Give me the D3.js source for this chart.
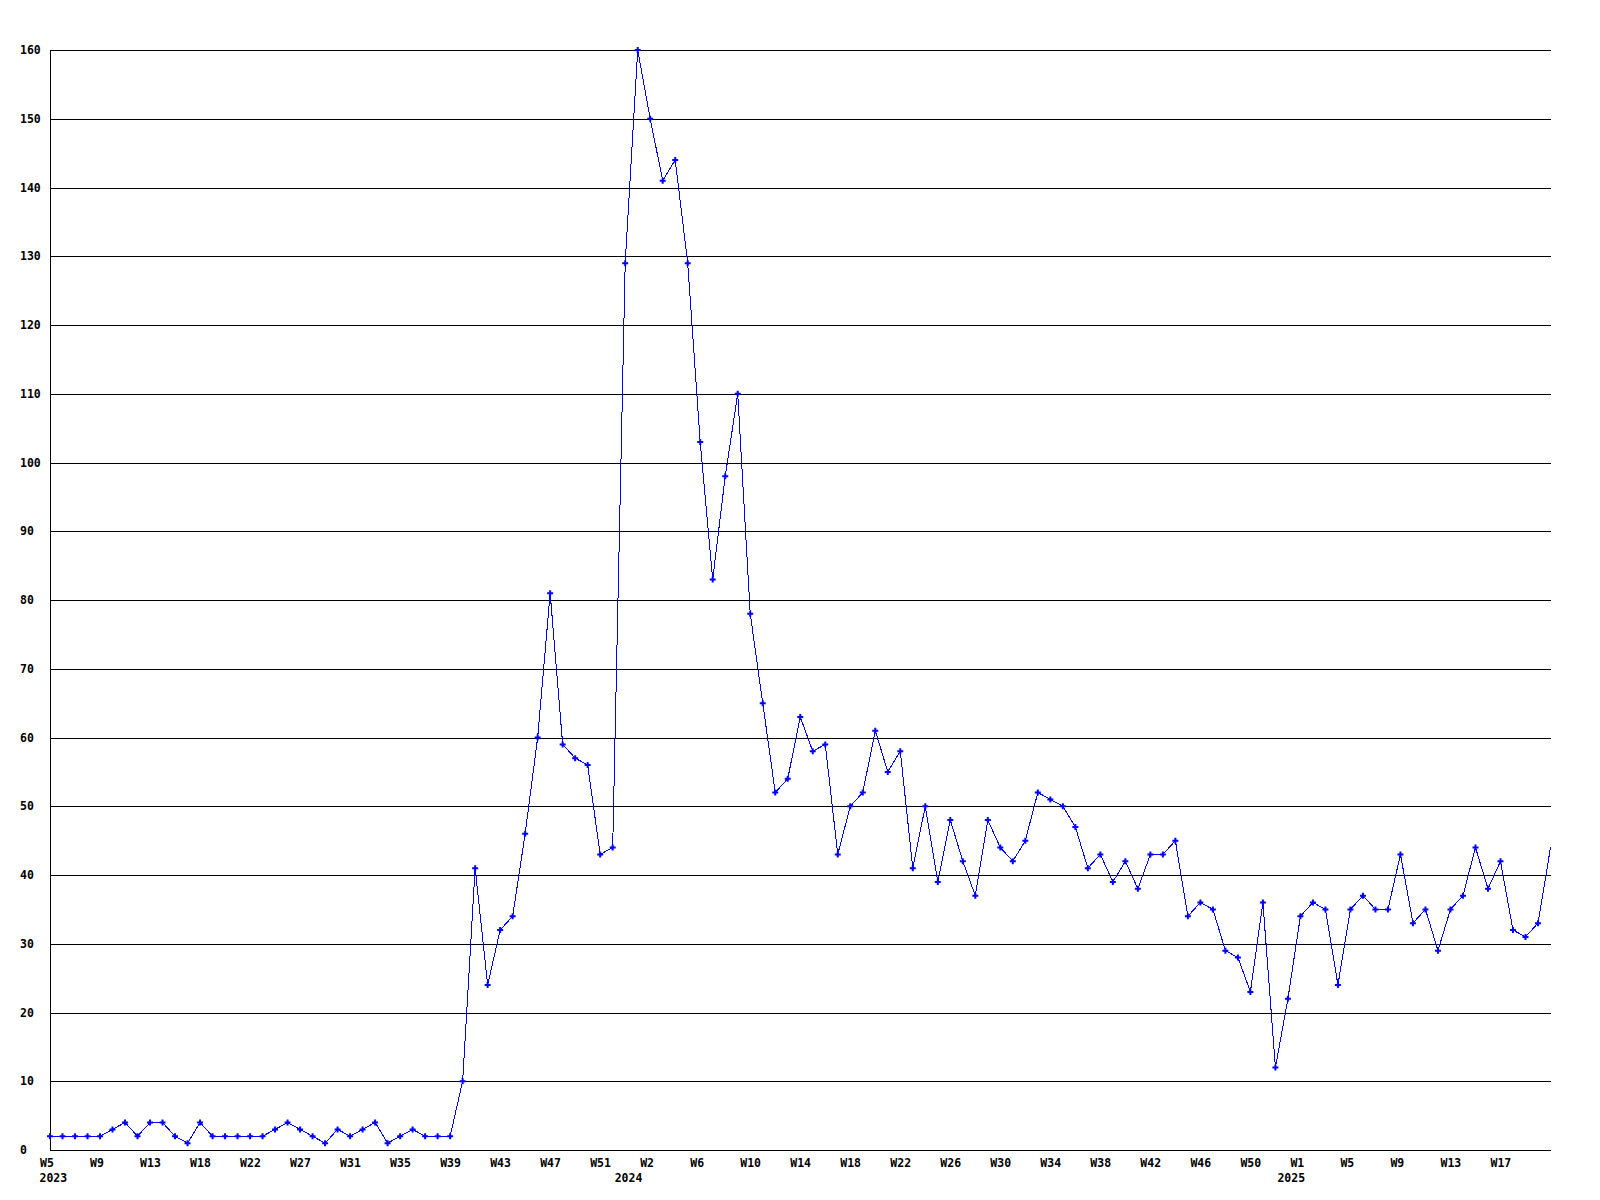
<!DOCTYPE html>
<html><head><meta charset="utf-8">
<script src="https://cdn.jsdelivr.net/npm/d3@7"></script>
<style>
body{margin:0;background:#fff}
text{font-family:"DejaVu Sans Mono","Liberation Mono",monospace;font-weight:bold;font-size:11.5px;fill:#000}
</style>
</head><body>
<svg id="c" width="1600" height="1200"></svg>
<script>
// Week numbers of every data point, per year
const weeks2023 = [5,6,7,8,9,10,11,12,13,14,15,17,18,19,20,21,22,23,24,26,27,28,29,30,31,32,33,34,35,36,37,38,39,40,41,42,43,44,45,46,47,48,49,50,51,52];
const weeks2024 = [0,1,2,3,4,5,6,7,8,9,10,11,12,13,14,15,16,17,18,19,20,21,22,23,24,25,26,27,28,29,30,31,32,33,34,35,36,37,38,39,40,41,42,43,44,45,46,47,48,49,50,51,52];
const weeks2025 = [0,1,2,3,4,5,6,7,8,9,10,11,12,13,14,15,16,17,18,19,20,21];

// Series values (one per week above)
const values = [
  2,2,2,2,2,3,4,2,4,4,2,1,4,2,2,2,2,2,3,4,3,2,1,3,2,3,4,1,2,3,2,2,2,10,
  41,24,32,34,46,60,81,59,57,56,43,44,
  129,160,150,141,144,129,103,83,98,110,78,
  65,52,54,63,58,59,43,50,52,61,55,58,
  41,50,39,48,42,37,48,
  44,42,45,52,51,50,47,41,43,39,42,38,43,43,45,
  34,36,35,29,28,23,36,12,
  22,34,36,35,24,35,37,35,
  35,43,33,35,29,35,37,44,38,42,32,31,33,44
];

const yTicks = [0,10,20,30,40,50,60,70,80,90,100,110,120,130,140,150,160];
const xLabelEvery = 4;

const categories = [];
weeks2023.forEach(w => categories.push({year: 2023, week: w}));
weeks2024.forEach(w => categories.push({year: 2024, week: w}));
weeks2025.forEach(w => categories.push({year: 2025, week: w}));
const keys = categories.map(c => c.year + "-W" + c.week);
const catByKey = new Map(keys.map((k, i) => [k, categories[i]]));

const L = 50, R = 1550.5, T = 50, B = 1150;
const svg = d3.select("#c");
const x = d3.scalePoint().domain(keys).range([L, R]).padding(0);
const y = d3.scaleLinear().domain([0, 160]).range([B, T]);

// Y axis with gridlines
const gy = svg.append("g").attr("transform", `translate(${L},0)`)
  .call(d3.axisLeft(y).tickValues(yTicks).tickSize(-(R - L)).tickSizeOuter(0).tickFormat(d3.format("d")));
gy.select(".domain").attr("stroke", "#000").attr("shape-rendering", "crispEdges");
gy.selectAll(".tick line").attr("stroke", "#000").attr("shape-rendering", "crispEdges");
gy.selectAll(".tick text").attr("x", 20 - L).attr("dy", "0.32em")
  .attr("text-anchor", "start").attr("font-size", null).attr("font-family", null);

// X axis (labels every 4th point, only where they fit inside the plot)
const labelKeys = keys.filter((k, i) => i % xLabelEvery === 0 && x(k) + 12 <= R);
const gx = svg.append("g").attr("transform", `translate(0,${B})`)
  .call(d3.axisBottom(x).tickValues(labelKeys)
    .tickSize(0).tickSizeOuter(0).tickFormat(k => "W" + catByKey.get(k).week));
gx.select(".domain").attr("stroke", "#000").attr("shape-rendering", "crispEdges");
gx.selectAll(".tick text").attr("x", -10.5).attr("y", 17).attr("dy", 0)
  .attr("text-anchor", "start").attr("font-size", null).attr("font-family", null);

// Year labels at first point of each year
const yearStarts = categories.map((c, i) => ({c, i})).filter(d => d.i === 0 || categories[d.i - 1].year !== d.c.year);
svg.append("g").selectAll("text").data(yearStarts).join("text")
  .attr("x", d => x(keys[d.i]) - 10.5).attr("y", B + 32)
  .attr("text-anchor", "start").text(d => d.c.year);

// Line
const line = d3.line().x((d, i) => x(keys[i])).y(d => y(d));
svg.append("path").datum(values).attr("d", line)
  .attr("fill", "none").attr("stroke", "#0000ff").attr("stroke-width", 1)
  .attr("shape-rendering", "crispEdges");

// Markers
const sym = d3.symbol(d3.symbolCross, 20);
svg.append("g").selectAll("path").data(values.slice(0, values.length - 1)).join("path")
  .attr("transform", (d, i) => `translate(${x(keys[i])},${y(d)})`)
  .attr("d", sym).attr("fill", "#0000ff");
</script>
</body></html>
